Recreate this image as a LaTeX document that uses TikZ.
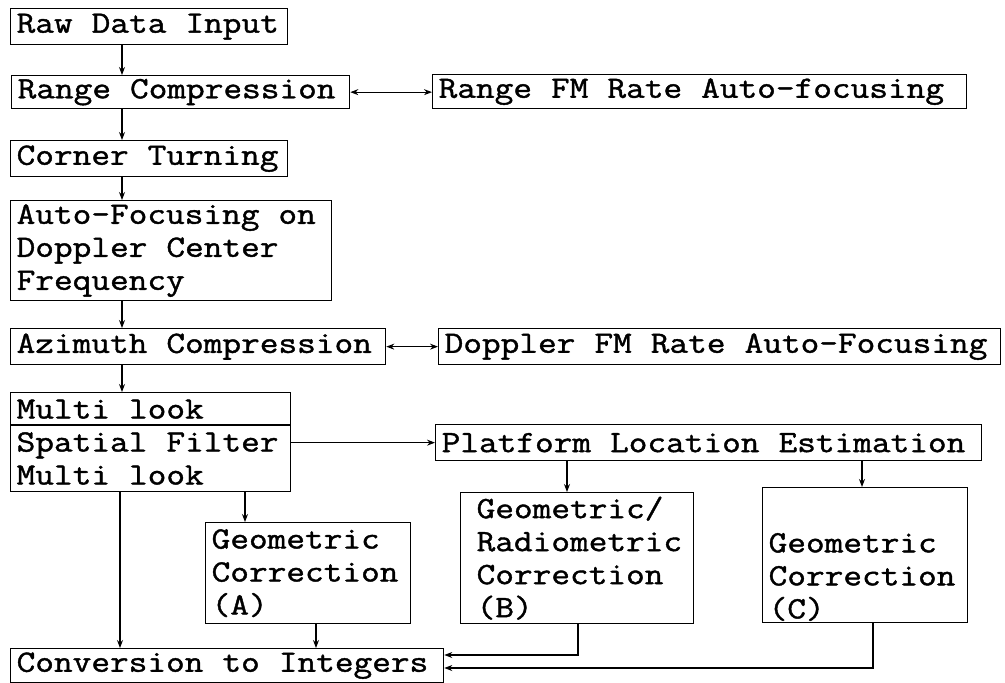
\documentclass[tikz,border=0pt]{standalone}
\usepackage{fontspec}
\usetikzlibrary{arrows.meta}
\newfontfamily\tw{Latin Modern Mono}[FakeStretch=1.17, FakeBold=1.3]
\newcommand\mb[1]{\mbox{#1}}
\newcommand\twfont{\tw\fontsize{31}{33}\selectfont}
\newcommand\wsp{\hskip 19.04pt\relax}
\begin{document}
\begin{tikzpicture}[x=1pt,y=-1pt,
  box/.style={draw, line width=1.3pt, anchor=north west, inner xsep=6pt, inner ysep=0pt,
    align=left, font={\twfont}},
  arr/.style={line width=1.1pt, -{Stealth[length=8pt,width=6pt]}},
  arrtwo/.style={line width=1.1pt, {Stealth[length=8pt,width=6pt]}-{Stealth[length=8pt,width=6pt]}}]
\useasboundingbox (0,0) rectangle (1005,683);
% boxes
\node[box, text width=265pt, minimum height=36pt] (raw) at (10,8) {\mb{Raw\wsp Data\wsp Input}};
\node[box, text width=326pt, minimum height=33pt] (range) at (11,75) {\mb{Range\wsp Compression}};
\node[box, text width=522pt, minimum height=34pt] (rfm) at (432,74) {\mb{Range\wsp FM\wsp Rate\wsp Auto-focusing}};
\node[box, text width=265pt, minimum height=36pt] (corner) at (10,140) {\mb{Corner\wsp Turning}};
\node[box, text width=309pt, minimum height=100pt] (auto) at (10,200) {\mb{Auto-Focusing\wsp on}\\\mb{Doppler\wsp Center}\\\mb{Frequency}};
\node[box, text width=363pt, minimum height=36pt] (azi) at (10,328) {\mb{Azimuth\wsp Compression}};
\node[box, text width=550pt, minimum height=36pt] (dfm) at (438,328) {\mb{Doppler\wsp FM\wsp Rate\wsp Auto-Focusing}};
\node[box, text width=268pt, minimum height=99pt] (multi) at (10,392) {\mb{Multi\wsp look}\\\mb{Spatial\wsp Filter}\\\mb{Multi\wsp look}};
\node[box, text width=534pt, minimum height=36pt] (ple) at (435,424) {\mb{Platform\wsp Location\wsp Estimation}};
\node[box, text width=193pt, minimum height=101pt] (ga) at (205,522) {\mb{Geometric}\\\mb{Correction}\\\mb{(A)}};
\node[box, inner xsep=16pt, text width=201pt, minimum height=131pt] (gb) at (460,492) {\mb{Geometric/}\\\mb{Radiometric}\\\mb{Correction}\\\mb{(B)}};
\node[box, align=none, minimum height=135pt] (gc) at (762,487) {\parbox[c][129pt][b]{193pt}{\raggedright\mb{Geometric}\\\mb{Correction}\\\mb{(C)}}};
\node[box, text width=421pt, minimum height=34pt] (conv) at (10,648) {\mb{Conversion\wsp to\wsp Integers}};
% helper coordinates
\coordinate (sp) at (122,0);
\coordinate (spb) at (120,0);
\coordinate (xa) at (245,0);
\coordinate (xaa) at (316,0);
\coordinate (xb) at (567,0);
\coordinate (xbb) at (578,0);
\coordinate (xc) at (862,0);
\coordinate (xcc) at (873,0);
\coordinate (ydiv) at (0,425);
\coordinate (yb) at (0,655);
\coordinate (yc) at (0,668);
% divider in multi look box
\draw[line width=1.3pt] (multi.west |- ydiv) -- (multi.east |- ydiv);
% spine
\draw[arr] (raw.south -| sp) -- (range.north -| sp);
\draw[arr] (range.south -| sp) -- (corner.north -| sp);
\draw[arr] (corner.south -| sp) -- (auto.north -| sp);
\draw[arr] (auto.south -| sp) -- (azi.north -| sp);
\draw[arr] (azi.south -| sp) -- (multi.north -| sp);
% side links
\draw[arrtwo] (range.east) -- (rfm.west |- range.east);
\draw[arrtwo] (azi.east) -- (dfm.west);
\draw[arr] (multi.east |- ple.west) -- (ple.west);
\draw[arr] (multi.south -| xa) -- (ga.north -| xa);
\draw[arr] (ple.south -| xb) -- (gb.north -| xb);
\draw[arr] (ple.south -| xc) -- (gc.north -| xc);
% to conversion
\draw[arr] (multi.south -| spb) -- (conv.north -| spb);
\draw[arr] (ga.south -| xaa) -- (conv.north -| xaa);
\draw[arr] (gb.south -| xbb) |- (conv.east |- yb);
\draw[arr] (gc.south -| xcc) |- (conv.east |- yc);
\end{tikzpicture}
\end{document}
